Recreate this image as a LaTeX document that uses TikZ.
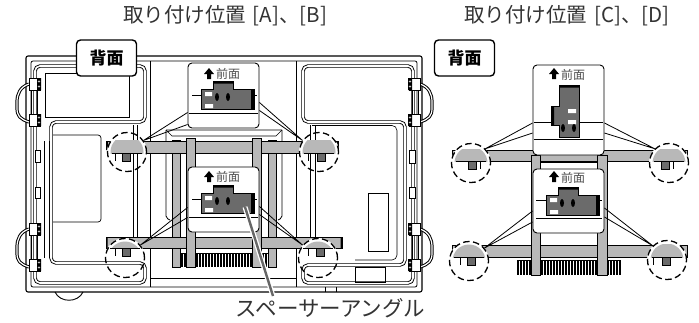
\documentclass[tikz,border=0pt]{standalone}
\usepackage{fontspec}
\usepackage{tikz}
\usetikzlibrary{positioning, calc}
\newfontfamily\jpfont{Noto Sans CJK JP}
\definecolor{bargray}{gray}{0.72}
\definecolor{platedark}{gray}{0.42}

\tikzset{
	titletext/.style={font=\jpfont\fontsize{20.5}{21}\selectfont, text=black!80, inner sep=0pt},
	spacertext/.style={font=\jpfont\fontsize{21.5}{22}\selectfont, text=black!80, inner sep=0pt},
	sidetag/.style={draw, line width=1.4pt, rounded corners=4pt, fill=white, minimum width=60pt, minimum height=36pt, font=\jpfont\bfseries\fontsize{17}{18}\selectfont, inner sep=0pt},
	calloutbox/.style={draw, line width=.9pt, rounded corners=4pt, fill=white, minimum width=71pt, inner sep=0pt},
	fronttext/.style={font=\jpfont\fontsize{12}{12}\selectfont, text=black!70, inner sep=0pt},
	ringspot/.style={draw, dashed, dash pattern=on 6.5pt off 3.5pt, line width=1.3pt, circle, minimum size=39pt, inner sep=0pt},
	bar/.style={fill=bargray, draw=black, line width=.8pt},
	post/.style={fill=bargray, draw=black, line width=.9pt},
	wall/.style={double, double distance=1.6pt, line width=.9pt, rounded corners=5pt},
	thin line/.style={line width=.6pt},
	callout/.style={line width=.8pt},
	gripper/.pic={
		\draw[line width=1pt, double, double distance=1.2pt] (0,6) .. controls (-9,9) and (-12,16) .. (-12,24) -- (-12,30) .. controls (-12,38) and (-9,41) .. (0,44);
		\draw[line width=.6pt] (2,12) -- (2,36) (8,12) -- (8,36);
		\draw[line width=1pt, fill=white] (0,0) rectangle (11,12);
		\draw[line width=1pt, fill=white] (0,36) rectangle (11,48);
		\fill[black] (8,0) rectangle (12,12) (8,36) rectangle (12,48);
		\foreach \hy in {3.5,8.5,39.5,44.5} \draw[fill=white, line width=.4pt] (10,\hy) circle [radius=1.4pt];
	},
	plateflat/.pic={
		\fill[platedark] (0,8) -- (12,8) -- (12,0) -- (32,0) -- (32,8) -- (53,8) -- (53,28) -- (0,28) -- cycle;
		\draw[line width=.6pt] (0,8) -- (12,8) -- (12,0) -- (32,0) -- (32,8) -- (53,8) -- (53,28) -- (0,28) -- cycle;
		\fill[black] (12,0) rectangle (32,2.5) (50,8) rectangle (53,28);
		\fill[white] (4,11) rectangle (11,15) (4,23) rectangle (12,27);
		\fill[black] (16,16) ellipse [x radius=2pt, y radius=4pt] (27,16) ellipse [x radius=2pt, y radius=4pt];
	},
	plateup/.pic={
		\fill[platedark] (8,0) -- (28,0) -- (28,52) -- (8,52) -- (8,40) -- (0,40) -- (0,21) -- (8,21) -- cycle;
		\draw[line width=.6pt] (8,0) -- (28,0) -- (28,52) -- (8,52) -- (8,40) -- (0,40) -- (0,21) -- (8,21) -- cycle;
		\fill[black] (8,0) rectangle (28,2.5) (0,21) rectangle (3,40);
		\fill[white] (17,24) rectangle (25,28) (17,35) rectangle (25,39);
		\fill[black] (12,43) ellipse [x radius=2pt, y radius=4pt] (23,43) ellipse [x radius=2pt, y radius=4pt];
	}
}

\newcommand{\upmark}[2]{
	\fill[black] (#1,#2) -- (#1+5,#2+6) -- (#1+2,#2+6) -- (#1+2,#2+11) -- (#1-2,#2+11) -- (#1-2,#2+6) -- (#1-5,#2+6) -- cycle;
}
% rail piece, nut and tick seen in a ring: cx, cy, rail top, rail bottom, nut x, tick x
\newcommand{\ringinside}[6]{
	\begin{scope}
		\clip (#1-21,#3-1) rectangle (#1+21,#4+.8);
		\fill[white] (#1,#2) circle [radius=20pt];
		\fill[bargray] (#1,#2) circle [radius=16.5pt];
	\end{scope}
	\draw[line width=1pt] (#1-15,#4) -- (#1+15,#4);
	\draw[line width=.8pt] (#6,#4) -- (#6,#4+8);
	\draw[fill=platedark, line width=.6pt] (#5-4,#4) rectangle (#5+4,#4+8);
}

\begin{document}
\begin{tikzpicture}[x=1pt, y=-1pt]
	\useasboundingbox (0,0) rectangle (699,322);

	\node[titletext] (titleA) at (225,16) {取り付け位置\,\,[A]、[B]};
	\node[titletext] (titleC) at (567,16) {取り付け位置\,\,[C]、[D]};

	% set frame
	\draw[line width=1.1pt, rounded corners=2pt] (26,56) rectangle (422,292);
	\draw[line width=.8pt, rounded corners=2pt] (31,61) rectangle (417,287);
	\draw[line width=.8pt] (150.5,61) -- (150.5,287) (296,61) -- (296,287) (150.5,278) -- (296,278);
	\draw[line width=.9pt] (55,292) .. controls (60,303) and (78,303) .. (83,292);
	\draw[line width=.8pt] (325,287) -- (325,292) (336,287) -- (336,292);
	\draw[wall] (35,66) -- (145,66) -- (145,122) -- (51,122) -- (51,263) -- (145,263) -- (145,283) -- (35,283) -- cycle;
	\draw[wall] (303,66) -- (413,66) -- (413,283) -- (303,283) -- (303,265) -- (405,265) -- (405,122) -- (303,122) -- cycle;
	\draw[thin line, rounded corners=5pt] (312,125.5) -- (397,125.5) -- (397,260) -- (355,260);
	\draw[line width=.7pt] (45,73) rectangle (129,117);
	\draw[line width=.7pt, rounded corners=3pt] (53,135) -- (101,135) -- (101,222) -- (53,222);
	\draw[line width=.7pt] (368,193) rectangle (388,251);
	\draw[line width=.7pt] (355,267) rectangle (385,282);
	\draw[thin line] (44,141) -- (44,258) (49,141) -- (49,258);
	\draw[thin line] (133,125) -- (133,240) (137,125) -- (137,240) (310,125) -- (310,240) (315,125) -- (315,240);
	\draw[line width=.7pt, fill=white] (35,150) rectangle (40,162) (35,187) rectangle (40,198);
	\draw[line width=.7pt, fill=white] (409,150) rectangle (415,163) (409,187) rectangle (415,198);
	\draw[line width=.8pt, rounded corners=2pt] (166,130) -- (282,130) (166,130) -- (166,218) -- (170,220) (282,130) -- (282,218) -- (278,220);
	\draw[thin line] (166,130) -- (172,136) -- (276,136) -- (282,130);
	\pic at (29,78) {gripper};
	\pic at (29,223) {gripper};
	\pic[xscale=-1] at (420,78) {gripper};
	\pic[xscale=-1] at (420,223) {gripper};

	% heat sink and rails, left set
	\fill[black] (172,253) rectangle (272,267);
	\foreach \sx in {174,177,...,270} \fill[white] (\sx,254) rectangle (\sx+1.4,267);
	\draw[post] (172,140) rectangle (180,267);
	\draw[post] (268,140) rectangle (276,267);
	\draw[bar] (107,141) rectangle (338,153);
	\draw[bar] (106,237) rectangle (342,248);
	\draw[post] (186,138) rectangle (195,267);
	\draw[post] (252,138) rectangle (261,267);
	\fill[black] (106,237) rectangle (107.5,248) (340.5,237) rectangle (342,248) (106,141) rectangle (107.5,150) (336,141) rectangle (338,150);

	% rails, right set
	\fill[black] (517,260) rectangle (621,275);
	\foreach \sx in {519,522,...,619} \fill[white] (\sx,261) rectangle (\sx+1.4,275);
	\draw[bar] (452,150) rectangle (687,161);
	\draw[bar] (452,245) rectangle (687,257);
	\draw[post] (531,155) rectangle (540,275);
	\draw[post] (597,155) rectangle (607,275);
	\draw[line width=.8pt] (540,162) -- (597,162);

	% rings
	\ringinside{127}{152}{141}{153}{126}{115}
	\ringinside{319}{152}{141}{153}{321}{308}
	\ringinside{125}{258}{237}{248}{126}{115}
	\ringinside{318}{258}{237}{248}{320}{308}
	\ringinside{471}{163}{150}{161}{472}{480}
	\ringinside{669}{163}{150}{161}{665}{673}
	\ringinside{469}{261}{245}{257}{471}{460}
	\ringinside{667}{260}{245}{257}{666}{653}
	\node[ringspot] (ringA) at (127,152) {};
	\node[ringspot] (ringB) at (319,152) {};
	\node[ringspot] (ringC) at (125,258) {};
	\node[ringspot] (ringD) at (318,258) {};
	\node[ringspot] (ringE) at (471,163) {};
	\node[ringspot] (ringF) at (669,163) {};
	\node[ringspot] (ringG) at (469,261) {};
	\node[ringspot] (ringH) at (667,260) {};

	% callout boxes
	\node[calloutbox, minimum height=65pt] (boxA) at (223.5,95.5) {};
	\node[calloutbox, minimum height=65pt] (boxB) at (223.5,199.5) {};
	\node[calloutbox, minimum height=90pt] (boxC) at (568.5,110) {};
	\node[calloutbox, minimum height=64pt] (boxD) at (568.5,201) {};

	\draw[callout] ([yshift=-17pt]boxA.west) -- (ringA.35) ([yshift=-29pt]boxA.west) -- (ringA.35);
	\draw[callout] ([yshift=-7pt]boxA.east) -- (ringB.145) ([yshift=-15pt]boxA.east) -- (ringB.145);
	\draw[callout] ([yshift=-8pt]boxB.west) -- (ringC.40) ([yshift=-18pt]boxB.west) -- (ringC.40);
	\draw[callout] ([yshift=-7pt]boxB.east) -- (ringD.140) ([yshift=-15pt]boxB.east) -- (ringD.140);
	\draw[callout] ([yshift=-13pt]boxC.west) -- (ringE.45) ([yshift=-23pt]boxC.west) -- (ringE.45);
	\draw[callout] ([yshift=-13pt]boxC.east) -- (ringF.135) ([yshift=-23pt]boxC.east) -- (ringF.135);
	\draw[callout] ([yshift=-10pt]boxD.west) -- (ringG.40) ([yshift=-21pt]boxD.west) -- (ringG.40);
	\draw[callout] ([yshift=-7pt]boxD.east) -- (ringH.135) ([yshift=-16pt]boxD.east) -- (ringH.135);

	% box contents
	\draw[thin line] (192,95) -- (201,95) (254,95) -- (257,95) (189,113) -- (258,113);
	\draw[thin line] (192,199) -- (201,199) (254,199) -- (257,199) (189,217) -- (258,217);
	\draw[thin line] (534,122) -- (558,122) (580,122) -- (603,122) (534,139) -- (603,139);
	\draw[thin line] (536,200) -- (546,200) (599,200) -- (602,200) (536,218) -- (602,218);
	\pic at (201,81) {plateflat};
	\pic at (201,185) {plateflat};
	\pic at (551,85) {plateup};
	\pic at (546,187) {plateflat};
	\upmark{209}{68}
	\upmark{209}{171}
	\upmark{554}{68}
	\upmark{554}{171}
	\node[fronttext, anchor=west] (frontA) at (216,74) {前面};
	\node[fronttext, anchor=west] (frontB) at (216,177) {前面};
	\node[fronttext, anchor=west] (frontC) at (561,75) {前面};
	\node[fronttext, anchor=west] (frontD) at (561,178) {前面};

	% tags
	\node[sidetag] (tagA) at (106.5,58) {背面};
	\node[sidetag] (tagB) at (464.5,58) {背面};

	% leader to the spacer angle
	\node[spacertext] (spacer) at (330.5,308) {スペーサーアングル};
	\coordinate (spacertip) at (245,207);
	\coordinate (spacerend) at (273,296);
	\draw[white, line width=5pt] (spacertip) -- (spacerend);
	\draw[black!60, line width=2.4pt] (spacertip) -- (spacerend);
\end{tikzpicture}
\end{document}
